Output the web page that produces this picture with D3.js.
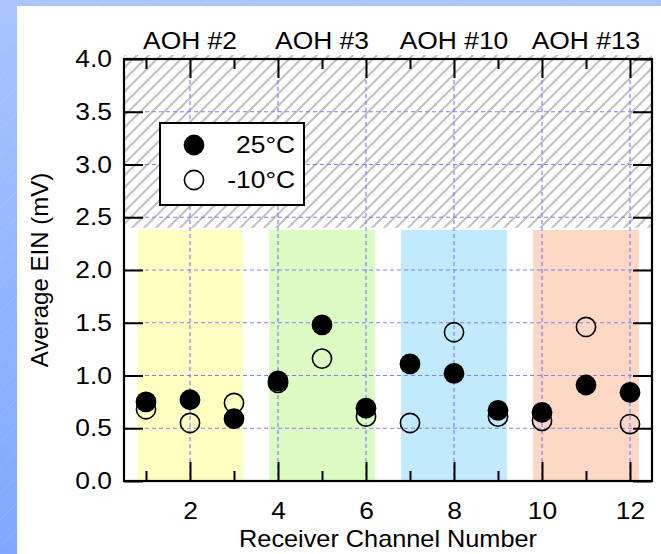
<!DOCTYPE html>
<html>
<head>
<meta charset="utf-8">
<script src="https://cdn.jsdelivr.net/npm/d3@7"></script>
<style>
    html, body { margin: 0; padding: 0; background: #fff; }
    svg { display: block; }
    text { font-family: "Liberation Sans", Arial, sans-serif; fill: #000; }
</style>
</head>
<body>
<svg id="chart"></svg>
<script>
// Data
const channels = [1, 2, 3, 4, 5, 6, 7, 8, 9, 10, 11, 12];
const ein25C = [0.75, 0.77, 0.59, 0.95, 1.48, 0.69, 1.11, 1.02, 0.67, 0.65, 0.91, 0.84];
const einMinus10C = [0.68, 0.55, 0.74, 0.93, 1.16, 0.61, 0.55, 1.41, 0.61, 0.57, 1.46, 0.54];
const seriesNames = ['25°C', '-10°C'];

const groupLabels = ['AOH #2', 'AOH #3', 'AOH #10', 'AOH #13'];
const groupFirst = [1, 4, 7, 10];
const groupLast = [3, 6, 9, 12];
const groupColors = ['#ffffc2', '#dcfcc4', '#c2eafd', '#fdd8c4'];
const bandTop = 2.38;
const hatchFrom = 2.4;

const xMajorTicks = [2, 4, 6, 8, 10, 12];
const xMinorTicks = [1, 3, 5, 7, 9, 11];
const yTicks = [0, 0.5, 1.0, 1.5, 2.0, 2.5, 3.0, 3.5, 4.0];

(function() {

    const w = 661;
    const h = 554;
    const left = 124, right = 652, top = 59, bottom = 481;
    const stretch = 'scale(1.1,1)';

    const svg = d3.select('#chart')
        .attr('width', w)
        .attr('height', h);

    const defs = svg.append('defs');

    // blue page background
    const grad = defs.append('linearGradient')
        .attr('id', 'bg')
        .attr('x1', 0).attr('y1', 0).attr('x2', 0).attr('y2', 1);
    grad.append('stop').attr('offset', '0%').attr('stop-color', '#a9c4ff');
    grad.append('stop').attr('offset', '100%').attr('stop-color', '#7ea8ff');

    const bgLines = defs.append('pattern')
        .attr('id', 'bgLines')
        .attr('patternUnits', 'userSpaceOnUse')
        .attr('width', 26).attr('height', 26);
    bgLines.append('path')
        .attr('d', 'M0,26 L26,0')
        .attr('stroke', '#ffffff')
        .attr('stroke-opacity', 0.35)
        .attr('stroke-width', 0.8)
        .attr('stroke-dasharray', '1,2');

    // grey hatch
    const hatch = defs.append('pattern')
        .attr('id', 'hatch')
        .attr('patternUnits', 'userSpaceOnUse')
        .attr('width', 12).attr('height', 12);
    hatch.append('path')
        .attr('d', 'M-3,3 L3,-3 M0,12 L12,0 M9,15 L15,9')
        .attr('stroke', '#c2c2c2')
        .attr('stroke-width', 2.2);

    svg.append('rect').attr('width', w).attr('height', h).attr('fill', 'url(#bg)');
    svg.append('rect').attr('width', w).attr('height', h).attr('fill', 'url(#bgLines)');
    svg.append('rect')
        .attr('x', 17).attr('y', 6)
        .attr('width', w - 17).attr('height', h - 6)
        .attr('fill', '#fff');

    // Scales
    const scaleX = d3.scaleLinear().domain([0.5, 12.5]).range([left, right]);
    const scaleY = d3.scaleLinear().domain([0, 4]).range([bottom, top]);

    // hatched "over limit" area
    svg.append('rect')
        .attr('x', left)
        .attr('y', scaleY(4) - 4)
        .attr('width', right - left)
        .attr('height', scaleY(hatchFrom) - scaleY(4) + 4)
        .attr('fill', 'url(#hatch)');

    // group bands
    svg.selectAll('rect.band')
        .data(groupLabels)
        .enter()
        .append('rect')
        .attr('class', 'band')
        .attr('x', (d, i) => scaleX(groupFirst[i] - 0.2))
        .attr('y', scaleY(bandTop))
        .attr('width', (d, i) => scaleX(groupLast[i] + 0.2) - scaleX(groupFirst[i] - 0.2))
        .attr('height', scaleY(0) - scaleY(bandTop))
        .attr('fill', (d, i) => groupColors[i]);

    // grid
    const grid = svg.append('g')
        .attr('stroke', '#8080ff')
        .attr('stroke-width', 1.2)
        .attr('stroke-dasharray', '4,3');
    grid.selectAll('line.gx')
        .data(xMajorTicks)
        .enter()
        .append('line')
        .attr('x1', d => scaleX(d)).attr('x2', d => scaleX(d))
        .attr('y1', top).attr('y2', bottom);
    grid.selectAll('line.gy')
        .data(yTicks.slice(1, -1))
        .enter()
        .append('line')
        .attr('x1', left).attr('x2', right)
        .attr('y1', d => scaleY(d)).attr('y2', d => scaleY(d));

    // group labels above the plot
    svg.selectAll('text.group')
        .data(groupLabels)
        .enter()
        .append('text')
        .attr('class', 'group')
        .attr('transform', (d, i) => `translate(${scaleX((groupFirst[i] + groupLast[i]) / 2)},49) ${stretch}`)
        .attr('text-anchor', 'middle')
        .style('font-size', '24px')
        .text(d => d);

    // points: open first, filled on top
    svg.selectAll('circle.cold')
        .data(channels)
        .enter()
        .append('circle')
        .attr('class', 'cold')
        .attr('cx', d => scaleX(d))
        .attr('cy', (d, i) => scaleY(einMinus10C[i]))
        .attr('r', 9.6)
        .attr('fill', 'none')
        .attr('stroke', '#000')
        .attr('stroke-width', 1.6);

    svg.selectAll('circle.warm')
        .data(channels)
        .enter()
        .append('circle')
        .attr('class', 'warm')
        .attr('cx', d => scaleX(d))
        .attr('cy', (d, i) => scaleY(ein25C[i]))
        .attr('r', 10.4)
        .attr('fill', '#000');

    // legend
    const legend = svg.append('g');
    legend.append('rect')
        .attr('x', 160).attr('y', 123)
        .attr('width', 144).attr('height', 82)
        .attr('fill', '#fff')
        .attr('stroke', '#000')
        .attr('stroke-width', 2);
    legend.append('circle')
        .attr('cx', 194).attr('cy', 145).attr('r', 10.4).attr('fill', '#000');
    legend.append('circle')
        .attr('cx', 194).attr('cy', 180).attr('r', 9.6)
        .attr('fill', 'none').attr('stroke', '#000').attr('stroke-width', 1.6);
    legend.selectAll('text')
        .data(seriesNames)
        .enter()
        .append('text')
        .attr('transform', (d, i) => `translate(295,${153 + i * 35}) ${stretch}`)
        .attr('text-anchor', 'end')
        .style('font-size', '24px')
        .text(d => d);

    // Axes (ticks point inward)
    const styleAxis = (g) => {
        g.select('.domain').remove();
        g.selectAll('.tick line').attr('stroke', '#000').attr('stroke-width', 2);
        g.selectAll('.tick text')
            .style('font-size', '24px')
            .attr('fill', '#000')
            .attr('transform', stretch);
    };

    const xBottom = d3.axisBottom(scaleX).tickValues(xMajorTicks).tickSize(-19).tickPadding(21).tickFormat(d3.format('d'));
    const xBottomMinor = d3.axisBottom(scaleX).tickValues(xMinorTicks).tickSize(-10).tickFormat('');
    const xTop = d3.axisTop(scaleX).tickValues(xMajorTicks).tickSize(-19).tickFormat('');
    const xTopMinor = d3.axisTop(scaleX).tickValues(xMinorTicks).tickSize(-10).tickFormat('');
    const yLeft = d3.axisLeft(scaleY).tickValues(yTicks).tickSize(-19).tickPadding(11).tickFormat(d3.format('.1f'));
    const yRight = d3.axisRight(scaleY).tickValues(yTicks).tickSize(-19).tickFormat('');

    svg.append('g').attr('transform', `translate(0,${bottom})`).call(xBottom).call(styleAxis);
    svg.append('g').attr('transform', `translate(0,${bottom})`).call(xBottomMinor).call(styleAxis);
    svg.append('g').attr('transform', `translate(0,${top})`).call(xTop).call(styleAxis);
    svg.append('g').attr('transform', `translate(0,${top})`).call(xTopMinor).call(styleAxis);
    svg.append('g').attr('transform', `translate(${left},0)`).call(yLeft).call(styleAxis);
    svg.append('g').attr('transform', `translate(${right},0)`).call(yRight).call(styleAxis);

    // frame
    svg.append('rect')
        .attr('x', left).attr('y', top)
        .attr('width', right - left).attr('height', bottom - top)
        .attr('fill', 'none')
        .attr('stroke', '#000')
        .attr('stroke-width', 2.2);

    // axis titles
    svg.append('text')
        .attr('transform', `translate(${(left + right) / 2},547) ${stretch}`)
        .attr('text-anchor', 'middle')
        .style('font-size', '23px')
        .text('Receiver Channel Number');

    svg.append('text')
        .attr('transform', `translate(48,${(top + bottom) / 2}) rotate(-90)`)
        .attr('text-anchor', 'middle')
        .style('font-size', '24px')
        .text('Average EIN (mV)');

})();
</script>
</body>
</html>
